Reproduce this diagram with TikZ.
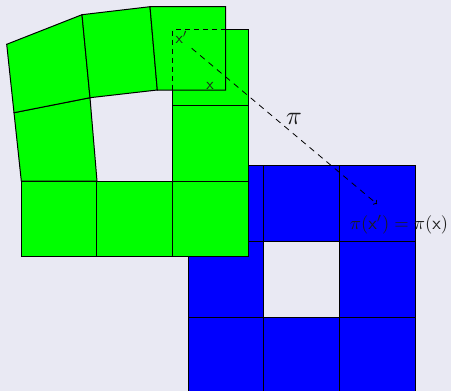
\documentclass[tikz,border=0pt]{standalone}
\usepackage{graphicx}
\usetikzlibrary{arrows.meta}
\definecolor{bgc}{RGB}{233,233,243}
\definecolor{txt}{RGB}{30,30,30}
\tikzset{
  bcell/.style={fill={rgb,255:red,0;green,0;blue,255}, draw=black, line width=1pt},
  gcell/.style={fill={rgb,255:red,0;green,255;blue,0}, draw=black, line width=1pt},
  hidden/.style={draw=black, dash pattern=on 5pt off 4pt, line width=0.9pt},
  maparrow/.style={draw=black, dash pattern=on 6pt off 5pt, line width=0.8pt, -{To[length=3pt,width=6pt]}},
  lbl/.style={text=txt, inner sep=0pt}
}
\begin{document}
\begin{tikzpicture}[x=1pt,y=-1pt]
\fill[bgc] (0,0) rectangle (451,391);
\useasboundingbox (0,0) rectangle (451,391);
\begin{scope}
\clip (0,0) rectangle (451,391);
% blue 3x3 grid with hole
\foreach \i in {0,1,2}{
  \foreach \j in {0,1,2}{
    \ifnum\i=1 \ifnum\j=1 \else
      \path[bcell] ({188+75.67*\i},{165.7+75.67*\j}) rectangle +(75.67,75.67);
    \fi\else
      \path[bcell] ({188+75.67*\i},{165.7+75.67*\j}) rectangle +(75.67,75.67);
    \fi
  }
}
% green straight cells
\foreach \i in {0,1,2}{
  \path[gcell] ({21.3+75.67*\i},181) rectangle +(75.67,75.67);
}
\path[gcell] (172.7,105.3) rectangle (248.3,181);
\path[gcell] (172.7,29.7) rectangle (248.3,105.3);
% deformed cells
\path[gcell] (14,112.7) -- (90,97.7) -- (97,181) -- (21.3,181) -- cycle;
\path[gcell] (6.7,44.3) -- (82,14.7) -- (90,97.7) -- (14,112.7) -- cycle;
\path[gcell] (82,14.7) -- (150,6.7) -- (157.3,90) -- (90,97.7) -- cycle;
\path[gcell] (150,6.7) -- (225.7,6.7) -- (225.7,90) -- (157.3,90) -- cycle;
% hidden edges of the straight cell
\draw[hidden] (225.7,29.7) -- (172.7,29.7) -- (172.7,90);
\end{scope}
% labels
\node[lbl] (xp) at (181.5,37) {\scalebox{1.6}{$\mathsf{x}'$}};
\node[lbl] (xx) at (210,86) {\scalebox{1.6}{$\mathsf{x}$}};
\coordinate (from) at (191.7,48.3);
\coordinate (to) at (377,204);
\draw[maparrow] (from) -- (to);
\node[lbl] (pi) at (294,119) {\scalebox{2.6}{$\pi$}};
\node[lbl] (eq) at (399,225) {\scalebox{1.85}{$\pi(\mathsf{x}') = \pi(\mathsf{x})$}};
\end{tikzpicture}
\end{document}
